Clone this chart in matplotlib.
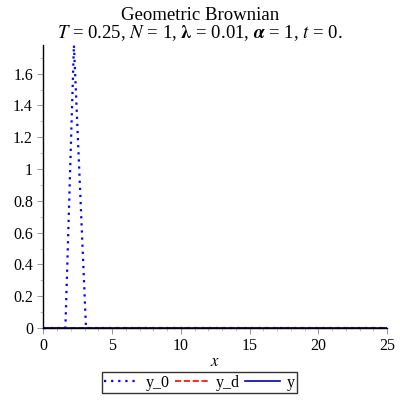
import matplotlib
matplotlib.use("Agg")
import matplotlib.pyplot as plt
from matplotlib.ticker import MultipleLocator

# values
x_grid = [0, 1.6, 2.22, 3.1, 25]
y_0 = [0, 0, 1.78, 0, 0]
x_flat = [0, 25]
y_d = [0, 0]
y = [0, 0]
labels = ["y_0", "y_d", "y"]

plt.rcParams["font.family"] = ["Liberation Serif", "DejaVu Serif"]
plt.rcParams["mathtext.fontset"] = "stix"

fig = plt.figure(figsize=(4, 4), dpi=100)
ax = fig.add_axes([0.1085, 0.18, 0.859, 0.7075])

l1, = ax.plot(x_grid, y_0, color="blue", linestyle=(0, (1, 2.2)), linewidth=1.6, clip_on=False)
l2, = ax.plot(x_flat, y_d, color="red", linestyle="--", linewidth=1.2)
l3, = ax.plot(x_flat, y, color="#0000b0", linestyle="-", linewidth=1.2)

ax.set_xlim(0, 25)
ax.set_ylim(0, 1.78)
ax.xaxis.set_major_locator(MultipleLocator(5))
ax.xaxis.set_minor_locator(MultipleLocator(1))
ax.yaxis.set_major_locator(MultipleLocator(0.2))
ax.yaxis.set_minor_locator(MultipleLocator(0.1))
ax.set_yticks([0, 0.2, 0.4, 0.6, 0.8, 1.0, 1.2, 1.4, 1.6])
ax.set_yticklabels(["0", "0.2", "0.4", "0.6", "0.8", "1", "1.2", "1.4", "1.6"])
ax.tick_params(which="major", length=4, width=0.6, color="#888888", labelsize=11.5)
ax.tick_params(which="minor", length=2, width=0.5, color="#aaaaaa")
for s in ["top", "right"]:
    ax.spines[s].set_visible(False)
ax.spines["left"].set_linewidth(1.0)
ax.spines["bottom"].set_linewidth(1.0)

ax.set_xlabel("$x$", fontsize=12, labelpad=0)

fig.text(0.5, 0.962, "Geometric Brownian", ha="center", va="center", fontsize=13.5)
fig.text(0.5, 0.918,
         r"$T$ = 0.25, $N$ = 1, $\boldsymbol{\lambda}$ = 0.01, $\boldsymbol{\alpha}$ = 1, $t$ = 0.",
         ha="center", va="center", fontsize=13.5)

leg = fig.legend([l1, l2, l3], labels, loc="center", bbox_to_anchor=(0.4985, 0.043),
                 ncol=3, frameon=True, fancybox=False, edgecolor="black", fontsize=11.5,
                 handlelength=2.2, handletextpad=0.4, columnspacing=0.3,
                 borderpad=0.15, borderaxespad=0)
leg.get_frame().set_linewidth(1.0)

fig.savefig("out.png", dpi=100)
